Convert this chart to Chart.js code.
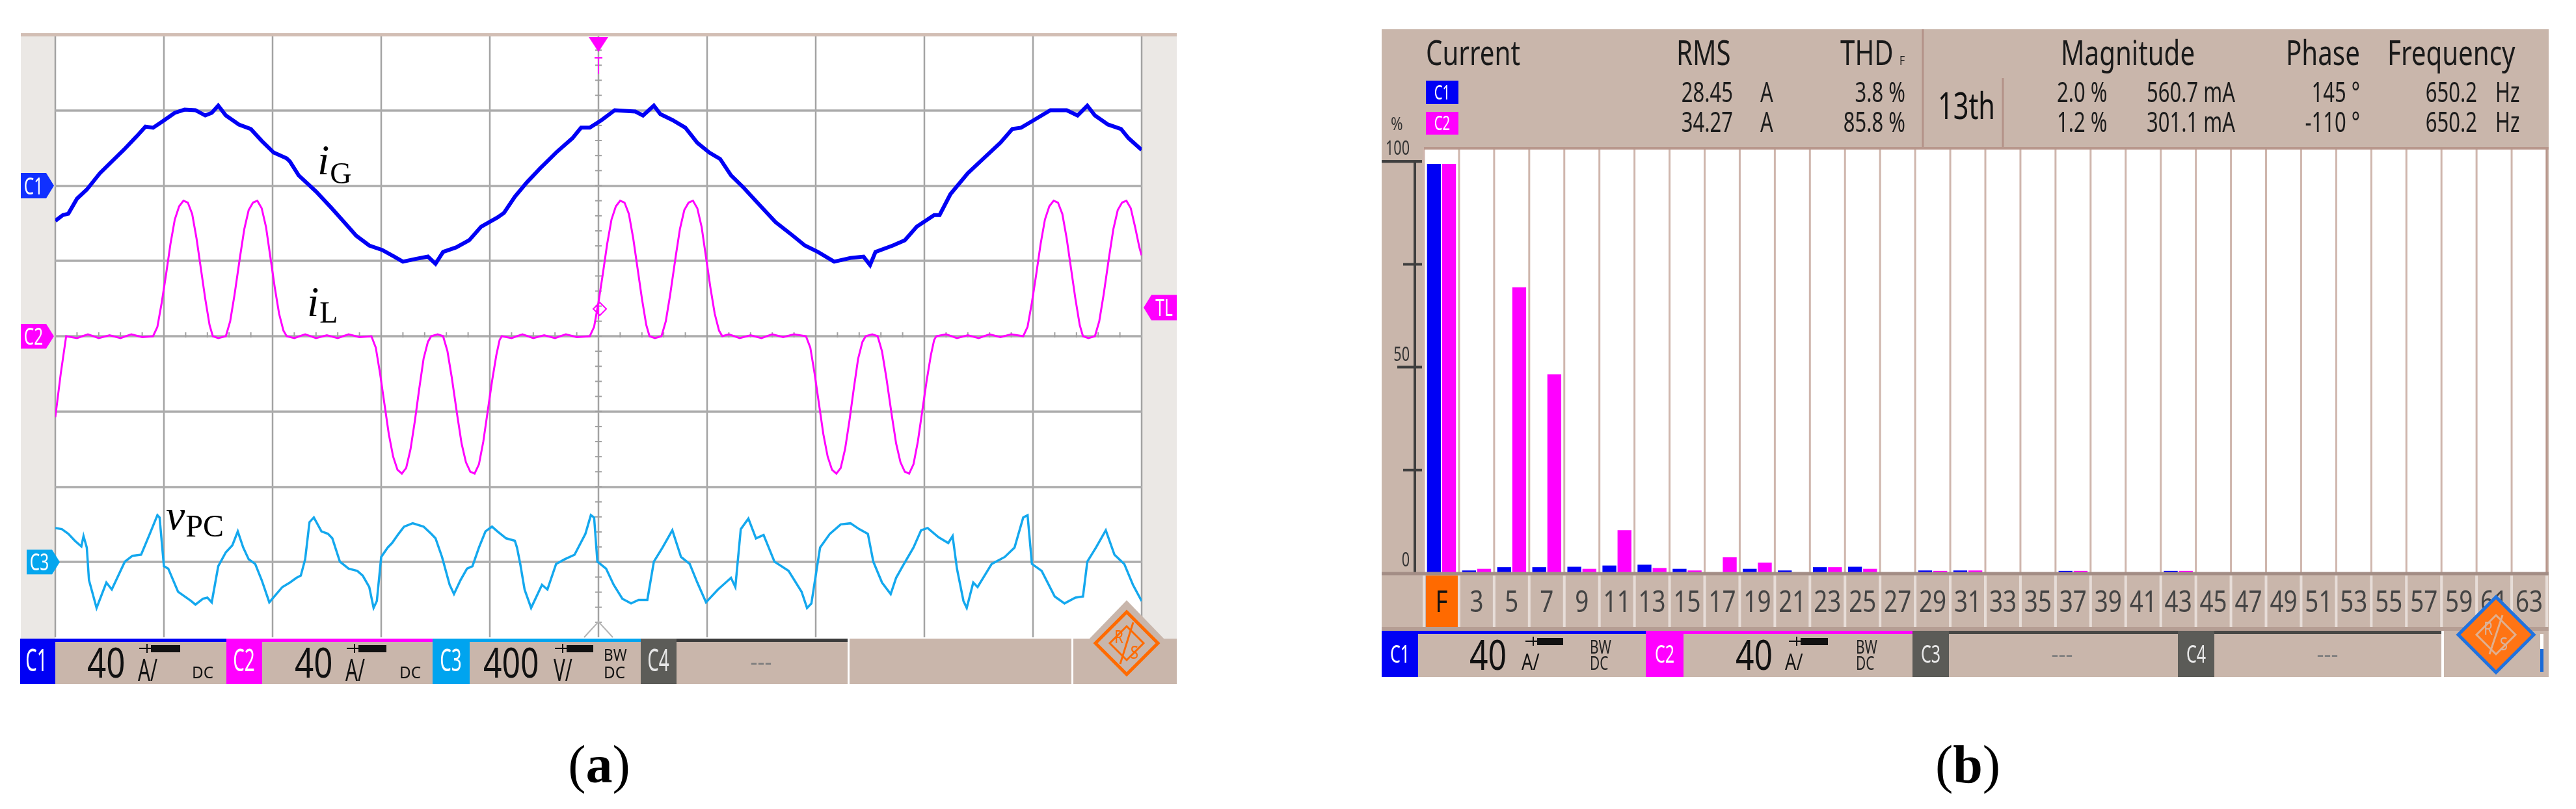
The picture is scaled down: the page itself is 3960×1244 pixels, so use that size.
<!DOCTYPE html>
<html>
<head>
<meta charset="utf-8">
<script src="https://cdn.jsdelivr.net/npm/chart.js@4.4.0/dist/chart.umd.min.js"></script>
<style>
  html, body { margin: 0; padding: 0; background: #fff; }
  #wrap { position: relative; width: 3960px; height: 1244px; overflow: hidden; }
  #wrap canvas { position: absolute; left: 0; top: 0; }
</style>
</head>
<body>
<div id="wrap">
  <canvas id="scope" width="3960" height="1244"></canvas>
  <canvas id="spectrum" width="3960" height="1244"></canvas>
</div>
<script>
// ---------- panel (a): scope traces, time in divisions ----------
// iG (C1, 40 A/div)
const timeIG = [0, 0.07, 0.12, 0.2, 0.29, 0.41, 0.52, 0.63, 0.75, 0.83,
  0.9, 0.98, 1.1, 1.19, 1.29, 1.38, 1.44, 1.5, 1.57, 1.69,
  1.8, 1.9, 2.01, 2.13, 2.16, 2.24, 2.4, 2.54, 2.66, 2.77,
  2.89, 3.01, 3.12, 3.2, 3.31, 3.43, 3.5, 3.57, 3.69, 3.81,
  3.92, 4.07, 4.13, 4.23, 4.34, 4.46, 4.61, 4.76, 4.84, 4.92,
  5.03, 5.15, 5.34, 5.41, 5.51, 5.57, 5.68, 5.8, 5.91, 6.02,
  6.12, 6.22, 6.33, 6.49, 6.63, 6.79, 6.9, 7.02, 7.17, 7.32,
  7.44, 7.5, 7.55, 7.71, 7.82, 7.93, 8.09, 8.14, 8.24, 8.4,
  8.54, 8.7, 8.81, 8.89, 9.01, 9.16, 9.31, 9.41, 9.5, 9.57,
  9.69, 9.81, 9.88, 10];
const currentIG = [-18.7, -15.6, -14.9, -6.9, -2.1, 6.6, 12.8, 19.0, 26.3, 31.4,
  30.8, 33.9, 38.7, 40.4, 40.1, 37.3, 38.7, 42.5, 37.3, 32.5,
  30.1, 23.8, 17.6, 14.5, 12.8, 5.5, -3.1, -11.7, -19.4, -26.6,
  -31.8, -34.2, -37.7, -40.4, -39.0, -37.7, -41.5, -35.2, -32.8, -29.0,
  -21.8, -16.9, -14.5, -5.9, 1.7, 9.0, 17.6, 25.2, 30.8, 30.8,
  34.9, 40.1, 39.4, 37.3, 42.5, 38.0, 34.9, 30.8, 22.8, 17.6,
  14.2, 5.5, -0.7, -10.7, -19.4, -26.6, -31.8, -35.2, -40.4, -38.4,
  -37.7, -42.2, -35.2, -31.8, -29.0, -21.8, -15.6, -15.6, -4.5, 6.6,
  14.2, 22.8, 30.1, 30.8, 34.9, 40.1, 40.1, 37.3, 42.5, 37.3,
  32.5, 30.1, 25.2, 19.0];

// iL (C2, 40 A/div)
const timeIL = [0, 0.05, 0.1, 0.2, 0.3, 0.4, 0.5, 0.6, 0.7, 0.8, 0.9,
  0.94, 0.98, 1.02, 1.06, 1.1, 1.14, 1.18, 1.22, 1.26, 1.3, 1.34, 1.38, 1.42, 1.45, 1.5, 1.57,
  1.61, 1.65, 1.7, 1.74, 1.78, 1.82, 1.86, 1.9, 1.94, 1.98, 2.02, 2.06, 2.1, 2.13,
  2.2, 2.3, 2.4, 2.5, 2.6, 2.7, 2.8, 2.91,
  2.95, 2.99, 3.03, 3.07, 3.11, 3.15, 3.19, 3.23, 3.27, 3.31, 3.35, 3.39, 3.43, 3.46, 3.52, 3.57,
  3.61, 3.65, 3.7, 3.74, 3.78, 3.82, 3.86, 3.9, 3.94, 3.98, 4.02, 4.06, 4.09, 4.11,
  4.2, 4.3, 4.4, 4.5, 4.6, 4.7, 4.8, 4.92,
  4.96, 5.0, 5.04, 5.08, 5.12, 5.16, 5.2, 5.24, 5.28, 5.32, 5.36, 5.4, 5.44, 5.47, 5.52, 5.58,
  5.62, 5.66, 5.71, 5.75, 5.79, 5.83, 5.87, 5.91, 5.95, 5.99, 6.03, 6.07, 6.11, 6.14,
  6.2, 6.3, 6.4, 6.5, 6.6, 6.7, 6.8, 6.91,
  6.95, 6.99, 7.03, 7.07, 7.11, 7.15, 7.19, 7.23, 7.27, 7.31, 7.35, 7.39, 7.43, 7.46, 7.52, 7.57,
  7.61, 7.65, 7.7, 7.74, 7.78, 7.82, 7.86, 7.9, 7.94, 7.98, 8.02, 8.06, 8.09, 8.11,
  8.2, 8.3, 8.4, 8.5, 8.6, 8.7, 8.8, 8.91,
  8.95, 8.99, 9.03, 9.07, 9.11, 9.15, 9.19, 9.23, 9.27, 9.31, 9.35, 9.39, 9.43, 9.46, 9.51, 9.57,
  9.61, 9.65, 9.7, 9.74, 9.78, 9.82, 9.86, 9.9, 9.94, 9.98, 10];
const currentIL = [-43, -20, 0, -1, 1, -1, 0.5, -1, 1, -0.5, 0,
  5, 18, 33, 49, 62, 69, 72, 71, 65, 52, 36, 20, 6, 0, -1, 0,
  8, 22, 42, 57, 67, 71, 72, 68, 58, 42, 26, 12, 3, 0,
  -1, 1, -1, 0.5, -1, 1, -0.5, 0,
  -6, -20, -36, -52, -64, -71, -73, -70, -60, -45, -28, -12, -3, 0, 1, 0,
  -8, -22, -42, -57, -67, -72, -73, -68, -56, -40, -24, -10, -2, 0,
  -1, 1, -1, 0.5, -1, 1, -0.5, 0,
  5, 18, 33, 49, 62, 69, 72, 71, 65, 52, 36, 20, 6, 0, -1, 0,
  8, 22, 42, 57, 67, 71, 72, 68, 58, 42, 26, 12, 3, 0,
  1, -1, 0.5, -1, 1, -0.5, 1, 0,
  -6, -20, -36, -52, -64, -71, -73, -70, -60, -45, -28, -12, -3, 0, 1, 0,
  -8, -22, -42, -57, -67, -72, -73, -68, -56, -40, -24, -10, -2, 0,
  1, -1, 0.5, -1, 1, -0.5, 1, 0,
  5, 18, 33, 49, 62, 69, 72, 71, 65, 52, 36, 20, 6, 0, -1, 0,
  8, 22, 42, 57, 67, 71, 72, 68, 58, 47, 43];

// vPC (C3, 400 V/div)
const timePC = [0, 0.06, 0.12, 0.18, 0.24, 0.26, 0.29, 0.31, 0.38, 0.47,
  0.52, 0.64, 0.71, 0.79, 0.87, 0.94, 0.96, 1.0, 1.04, 1.13,
  1.25, 1.29, 1.36, 1.4, 1.44, 1.5, 1.57, 1.63, 1.68, 1.73,
  1.78, 1.84, 1.9, 1.97, 2.09, 2.16, 2.22, 2.26, 2.3, 2.34,
  2.38, 2.45, 2.51, 2.55, 2.62, 2.7, 2.78, 2.83, 2.89, 2.93,
  2.96, 3.0, 3.06, 3.1, 3.16, 3.21, 3.29, 3.39, 3.46, 3.5,
  3.56, 3.63, 3.67, 3.73, 3.79, 3.84, 3.9, 3.96, 4.02, 4.07,
  4.15, 4.23, 4.25, 4.28, 4.32, 4.38, 4.44, 4.48, 4.53, 4.61,
  4.69, 4.78, 4.88, 4.93, 4.96, 4.99, 5.07, 5.14, 5.22, 5.3,
  5.37, 5.45, 5.51, 5.59, 5.68, 5.76, 5.84, 5.91, 5.99, 6.1,
  6.22, 6.26, 6.31, 6.38, 6.45, 6.52, 6.62, 6.75, 6.87, 6.92,
  6.96, 7.04, 7.13, 7.23, 7.32, 7.4, 7.48, 7.53, 7.61, 7.69,
  7.74, 7.8, 7.9, 7.97, 8.03, 8.13, 8.22, 8.26, 8.3, 8.36,
  8.39, 8.45, 8.49, 8.62, 8.74, 8.83, 8.91, 8.95, 8.99, 9.08,
  9.2, 9.29, 9.39, 9.46, 9.5, 9.58, 9.67, 9.75, 9.84, 9.92,
  10];
const voltPC = [181, 175, 150, 113, 83, 138, 77, -96, -244, -109,
  -146, 2, 33, 39, 150, 249, 237, -22, -35, -158,
  -207, -226, -195, -189, -214, -22, 52, 89, 163, 77,
  15, -10, -96, -214, -133, -109, -84, -72, 15, 212,
  237, 163, 150, 126, 2, -35, -47, -72, -133, -244,
  -207, 27, 77, 101, 150, 188, 206, 188, 150, 126,
  27, -121, -170, -96, -35, -22, 77, 163, 188, 163,
  126, 113, 77, -10, -146, -244, -170, -121, -146, -10,
  15, 39, 150, 249, 237, 2, -35, -121, -195, -220,
  -201, -201, 2, 77, 169, 27, -10, -109, -214, -146,
  -84, -133, 175, 231, 126, 144, 2, -47, -158, -244,
  -220, 77, 150, 200, 206, 175, 150, 2, -109, -170,
  -84, -22, 77, 169, 181, 132, 101, 138, -35, -207,
  -244, -109, -133, -10, 27, 77, 237, 249, -10, -47,
  -183, -220, -189, -183, 2, 77, 169, 39, -10, -121,
  -207];

// ---------- panel (b): harmonic spectrum ----------
const harmonicOrders = ['F', '3', '5', '7', '9', '11', '13', '15', '17', '19', '21', '23', '25', '27', '29', '31',
  '33', '35', '37', '39', '41', '43', '45', '47', '49', '51', '53', '55', '57', '59', '61', '63'];
const c1Percent = [99.4, 0.6, 1.4, 1.4, 1.5, 1.8, 2.0, 1.0, 0, 1.0, 0.6, 1.4, 1.5, 0, 0.6, 0.6,
  0, 0, 0.5, 0, 0, 0.5, 0, 0, 0, 0, 0, 0, 0, 0, 0, 0];
const c2Percent = [99.4, 1.0, 69.4, 48.3, 1.0, 10.4, 1.2, 0.6, 3.8, 2.5, 0, 1.4, 1.0, 0, 0.5, 0.6,
  0, 0, 0.5, 0, 0, 0.5, 0, 0, 0, 0, 0, 0, 0, 0, 0, 0];
const percentTicks = [0, 25, 50, 75, 100];
const percentLabels = [0, 50, 100];

// header table of the analyser
const headerTitles = ['Current', 'RMS', 'THD', 'Magnitude', 'Phase', 'Frequency'];
const rmsAmps = ['28.45', '34.27'];
const thdPercent = ['3.8 %', '85.8 %'];
const selectedOrder = '13th';
const magPercent = ['2.0 %', '1.2 %'];
const magMilliamps = ['560.7 mA', '301.1 mA'];
const phaseDeg = ['145 °', '-110 °'];
const freqHz = ['650.2', '650.2'];

const TAN = '#c9b6ab';
const BLUE = '#0000f5';
const MAGENTA = '#ff00ff';
const CYAN = '#14a8ee';

function pairs(xs, ys) { return xs.map((x, i) => ({ x: x, y: ys[i] })); }

// condensed scope-style text
function sText(ctx, str, x, y, size, o) {
  o = o || {};
  ctx.save();
  ctx.font = (o.weight || 400) + ' ' + size + 'px "Noto Sans", "Open Sans", sans-serif';
  ctx.fillStyle = o.color || '#1c1c1c';
  const sx = o.sx || 0.76;
  const w = ctx.measureText(str).width * sx;
  let left = x;
  if (o.align === 'right') left = x - w;
  else if (o.align === 'center') left = x - w / 2;
  ctx.translate(left, y);
  ctx.scale(sx, 1);
  ctx.textAlign = 'left';
  ctx.textBaseline = 'alphabetic';
  ctx.fillText(str, 0, 0);
  ctx.restore();
}

function seg(ctx, x0, y0, x1, y1) {
  ctx.beginPath(); ctx.moveTo(x0, y0); ctx.lineTo(x1, y1); ctx.stroke();
}

function tag(ctx, x0, x1, yc, h, pointRight, color, label) {
  ctx.save();
  ctx.fillStyle = color;
  ctx.beginPath();
  if (pointRight) {
    ctx.moveTo(x0, yc - h / 2); ctx.lineTo(x1 - 12, yc - h / 2); ctx.lineTo(x1, yc);
    ctx.lineTo(x1 - 12, yc + h / 2); ctx.lineTo(x0, yc + h / 2);
  } else {
    ctx.moveTo(x1, yc - h / 2); ctx.lineTo(x0 + 12, yc - h / 2); ctx.lineTo(x0, yc);
    ctx.lineTo(x0 + 12, yc + h / 2); ctx.lineTo(x1, yc + h / 2);
  }
  ctx.closePath(); ctx.fill();
  ctx.restore();
  const cx = pointRight ? (x0 + x1 - 12) / 2 : (x0 + 12 + x1) / 2;
  sText(ctx, label, cx, yc + 13, 36, { align: 'center', color: '#fff', sx: 0.68 });
}

function probeArrow(ctx, tipX, endX, y) {
  ctx.save();
  ctx.fillStyle = '#111';
  ctx.strokeStyle = '#111';
  ctx.lineWidth = 2;
  seg(ctx, tipX, y, tipX + 18, y);
  seg(ctx, tipX + 12, y - 7, tipX + 12, y + 7);
  ctx.fillRect(tipX + 18, y - 5, endX - tipX - 18, 11);
  ctx.restore();
}

function diamond(ctx, cx, cy, rx, ry) {
  ctx.beginPath();
  ctx.moveTo(cx, cy - ry); ctx.lineTo(cx + rx, cy); ctx.lineTo(cx, cy + ry); ctx.lineTo(cx - rx, cy);
  ctx.closePath();
}

function rsLogo(ctx, cx, cy, variant) {
  ctx.save();
  if (variant === 'a') {
    ctx.fillStyle = TAN; diamond(ctx, cx, cy - 2, 60, 62); ctx.fill();
    ctx.strokeStyle = '#ff6a00'; ctx.lineWidth = 5;
    diamond(ctx, cx, cy + 2, 48, 48); ctx.stroke();
    ctx.lineWidth = 3; diamond(ctx, cx, cy + 2, 26, 26); ctx.stroke();
    seg(ctx, cx + 10, cy - 30, cx - 10, cy + 34);
    sText(ctx, 'R', cx - 12, cy + 2, 28, { align: 'center', color: '#ff6a00', sx: 0.8 });
    sText(ctx, 'S', cx + 12, cy + 26, 28, { align: 'center', color: '#ff6a00', sx: 0.8 });
  } else {
    ctx.fillStyle = '#ff7414'; diamond(ctx, cx, cy, 58, 58); ctx.fill();
    ctx.strokeStyle = '#1f72e0'; ctx.lineWidth = 5; ctx.stroke();
    ctx.strokeStyle = '#e0b090'; ctx.lineWidth = 3; diamond(ctx, cx, cy, 30, 30); ctx.stroke();
    seg(ctx, cx + 10, cy - 30, cx - 10, cy + 30);
    sText(ctx, 'R', cx - 12, cy, 28, { align: 'center', color: '#d8b4a0', sx: 0.8 });
    sText(ctx, 'S', cx + 12, cy + 24, 28, { align: 'center', color: '#d8b4a0', sx: 0.8 });
  }
  ctx.restore();
}

function mathLabel(ctx, main, sub, x, yMain, ySub, mainSize, subSize) {
  ctx.save();
  ctx.fillStyle = '#000';
  ctx.textBaseline = 'alphabetic';
  ctx.font = 'italic ' + mainSize + 'px "Liberation Serif", "DejaVu Serif", serif';
  ctx.fillText(main, x, yMain);
  const w = ctx.measureText(main).width;
  ctx.font = subSize + 'px "Liberation Serif", "DejaVu Serif", serif';
  ctx.fillText(sub, x + w + 1, ySub);
  ctx.restore();
}

function caption(ctx, letter, cx, baseline) {
  ctx.save();
  ctx.fillStyle = '#000';
  ctx.textBaseline = 'alphabetic';
  const reg = '82px "Liberation Serif", serif', bold = 'bold 82px "Liberation Serif", serif';
  ctx.font = reg; const wp = ctx.measureText('(').width;
  ctx.font = bold; const wl = ctx.measureText(letter).width;
  let x = cx - (2 * wp + wl) / 2;
  ctx.font = reg; ctx.fillText('(', x, baseline); x += wp;
  ctx.font = bold; ctx.fillText(letter, x, baseline); x += wl;
  ctx.font = reg; ctx.fillText(')', x, baseline);
  ctx.restore();
}

// ---------- scope frame plugin (panel a) ----------
const scopeFrame = {
  id: 'scopeFrame',
  beforeDraw(chart) {
    const ctx = chart.ctx, a = chart.chartArea;
    const xs = chart.scales.x, ys = chart.scales.yC2;
    ctx.save();
    ctx.fillStyle = '#ebe8e5';
    ctx.fillRect(32, 54, 53, 928);
    ctx.fillRect(a.right, 54, 54, 928);
    ctx.fillStyle = '#fff';
    ctx.fillRect(a.left, a.top, a.right - a.left, a.bottom - a.top);

    // division grid, 10 x 8
    ctx.strokeStyle = '#a3a3a3';
    ctx.lineWidth = 2.5;
    for (let k = 0; k <= 10; k++) {
      const px = Math.round(xs.getPixelForValue(k));
      seg(ctx, px, a.top, px, a.bottom);
    }
    ctx.lineWidth = 3.5;
    ctx.strokeStyle = '#acacac';
    for (let k = -3; k <= 3; k++) {
      const py = Math.round(ys.getPixelForValue(k * 40));
      seg(ctx, a.left, py, a.right, py);
    }
    // centre axis minor ticks
    ctx.lineWidth = 2;
    ctx.strokeStyle = '#a0a0a0';
    const cx = xs.getPixelForValue(5), cy = ys.getPixelForValue(0);
    for (let j = 1; j < 40; j++) {
      const py = ys.getPixelForValue(-160 + j * 8);
      seg(ctx, cx - 5, py, cx + 5, py);
    }
    for (let j = 1; j < 50; j++) {
      const px = xs.getPixelForValue(j * 0.2);
      seg(ctx, px, cy - 6, px, cy + 2);
    }
    // top frame line
    ctx.fillStyle = '#d2beb4';
    ctx.fillRect(32, 51, 1777, 5);

    // status bar
    const sy = 982, sh = 70;
    ctx.fillStyle = TAN;
    ctx.fillRect(85, sy, 1218, sh);
    ctx.fillRect(1306, sy, 341, sh);
    ctx.fillRect(1650, sy, 159, sh);
    ctx.fillStyle = BLUE; ctx.fillRect(31, sy, 317, 5); ctx.fillRect(31, sy, 54, sh);
    ctx.fillStyle = MAGENTA; ctx.fillRect(348, sy, 317, 5); ctx.fillRect(348, sy, 55, sh);
    ctx.fillStyle = '#00a4ef'; ctx.fillRect(665, sy, 320, 5); ctx.fillRect(665, sy, 57, sh);
    ctx.fillStyle = '#3b3b3b'; ctx.fillRect(985, sy, 318, 5);
    ctx.fillStyle = '#5c5c58'; ctx.fillRect(985, sy, 55, sh);
    sText(ctx, 'C1', 56, 1032, 48, { align: 'center', color: '#fff', sx: 0.58 });
    sText(ctx, 'C2', 375, 1032, 48, { align: 'center', color: '#fff', sx: 0.58 });
    sText(ctx, 'C3', 693, 1032, 48, { align: 'center', color: '#fff', sx: 0.58 });
    sText(ctx, 'C4', 1012, 1032, 48, { align: 'center', color: '#e6e6e6', sx: 0.58 });

    sText(ctx, '40', 134, 1042, 64, { sx: 0.8, color: '#111' });
    sText(ctx, 'A/', 212, 1047, 48, { sx: 0.62, color: '#111' });
    probeArrow(ctx, 214, 277, 997);
    sText(ctx, 'DC', 295, 1043, 25, { sx: 0.97, color: '#111' });

    sText(ctx, '40', 453, 1042, 64, { sx: 0.8, color: '#111' });
    sText(ctx, 'A/', 531, 1047, 48, { sx: 0.62, color: '#111' });
    probeArrow(ctx, 533, 594, 997);
    sText(ctx, 'DC', 614, 1043, 25, { sx: 0.97, color: '#111' });

    sText(ctx, '400', 743, 1042, 64, { sx: 0.78, color: '#111' });
    sText(ctx, 'V/', 851, 1047, 48, { sx: 0.62, color: '#111' });
    probeArrow(ctx, 853, 912, 997);
    sText(ctx, 'BW', 928, 1016, 25, { sx: 0.9, color: '#111' });
    sText(ctx, 'DC', 928, 1043, 25, { sx: 0.97, color: '#111' });

    sText(ctx, '---', 1170, 1030, 34, { align: 'center', color: '#7d7d7d', sx: 1 });
    ctx.restore();
  },
  afterDatasetsDraw(chart) {
    const ctx = chart.ctx, xs = chart.scales.x;
    ctx.save();
    // channel ground tags
    tag(ctx, 32, 83, chart.scales.yC1.getPixelForValue(0), 39, true, '#1030ff', 'C1');
    tag(ctx, 32, 83, chart.scales.yC2.getPixelForValue(0), 38, true, MAGENTA, 'C2');
    tag(ctx, 41, 92, chart.scales.yC3.getPixelForValue(0), 38, true, '#05a6ee', 'C3');
    tag(ctx, 1758, 1809, 473, 39, false, MAGENTA, 'TL');

    // trigger position marker
    const tx = xs.getPixelForValue(5);
    ctx.fillStyle = MAGENTA;
    ctx.beginPath(); ctx.moveTo(tx - 15, 57); ctx.lineTo(tx + 15, 57); ctx.lineTo(tx, 80); ctx.closePath(); ctx.fill();
    ctx.strokeStyle = MAGENTA; ctx.lineWidth = 2;
    seg(ctx, tx, 89, tx, 114); seg(ctx, tx - 6, 89, tx + 6, 89);
    // trigger level marker
    ctx.lineWidth = 2;
    diamond(ctx, tx + 2, 475, 10, 10); ctx.stroke();
    seg(ctx, tx, 462, tx, 490);
    // bottom time reference marker
    ctx.strokeStyle = '#b4b4b4'; ctx.lineWidth = 2;
    ctx.beginPath(); ctx.moveTo(tx - 22, 980); ctx.lineTo(tx, 956); ctx.lineTo(tx + 22, 980); ctx.stroke();

    // trace labels
    mathLabel(ctx, 'i', 'G', 488, 268, 282, 66, 46);
    mathLabel(ctx, 'i', 'L', 472, 486, 496, 66, 46);
    mathLabel(ctx, 'v', 'PC', 255, 814, 825, 66, 48);

    rsLogo(ctx, 1732, 987, 'a');
    caption(ctx, 'a', 921, 1203);
    ctx.restore();
  }
};

// ---------- analyser frame plugin (panel b) ----------
const spectrumFrame = {
  id: 'spectrumFrame',
  beforeDraw(chart) {
    const ctx = chart.ctx, a = chart.chartArea;
    const xs = chart.scales.x, ys = chart.scales.y;
    ctx.save();
    ctx.fillStyle = TAN;
    ctx.fillRect(2124, 45, 1794, 920);
    ctx.fillStyle = '#fff';
    ctx.fillRect(a.left, a.top, a.right - a.left, a.bottom - a.top);

    // header
    ctx.strokeStyle = '#b39288'; ctx.lineWidth = 3;
    seg(ctx, 2956, 45, 2956, a.top);
    seg(ctx, 3079, 120, 3079, a.top);
    const hdrX = [2192, 2577, 2829, 3168, 3514, 3670];
    headerTitles.forEach((t, i) => sText(ctx, t, hdrX[i], 100, 53, { sx: 0.76, color: '#1a1a1a' }));
    sText(ctx, 'F', 2920, 100, 20, { sx: 0.8, color: '#1a1a1a' });

    ctx.fillStyle = BLUE; ctx.fillRect(2192, 124, 50, 36);
    ctx.fillStyle = MAGENTA; ctx.fillRect(2192, 172, 50, 35);
    sText(ctx, 'C1', 2217, 153, 30, { align: 'center', color: '#fff', sx: 0.68 });
    sText(ctx, 'C2', 2217, 200, 30, { align: 'center', color: '#fff', sx: 0.68 });

    const rows = [157, 203];
    rows.forEach((by, r) => {
      sText(ctx, rmsAmps[r], 2664, by, 43, { align: 'right', sx: 0.72 });
      sText(ctx, 'A', 2706, by, 43, { sx: 0.72 });
      sText(ctx, thdPercent[r], 2929, by, 43, { align: 'right', sx: 0.72 });
      sText(ctx, magPercent[r], 3162, by, 43, { sx: 0.72 });
      sText(ctx, magMilliamps[r], 3300, by, 43, { sx: 0.72 });
      sText(ctx, phaseDeg[r], 3628, by, 43, { align: 'right', sx: 0.72 });
      sText(ctx, freqHz[r], 3808, by, 43, { align: 'right', sx: 0.72 });
      sText(ctx, 'Hz', 3836, by, 43, { sx: 0.72 });
    });
    sText(ctx, selectedOrder, 2979, 183, 56, { sx: 0.74, color: '#111' });

    // harmonic slot separators and order labels
    const slot = xs.getPixelForValue(1) - xs.getPixelForValue(0);
    const first = xs.getPixelForValue(0) - slot / 2;
    for (let i = 0; i <= harmonicOrders.length; i++) {
      const px = first + i * slot;
      ctx.strokeStyle = '#cfb6ad'; ctx.lineWidth = 3;
      seg(ctx, px, a.top, px, a.bottom);
      ctx.strokeStyle = '#e7ddd8'; ctx.lineWidth = 4;
      seg(ctx, px, a.bottom + 4, px, 965);
    }
    ctx.fillStyle = '#ff6a00';
    ctx.fillRect(first + 3, a.bottom + 4, slot - 5, 80);
    harmonicOrders.forEach((lab, i) => {
      sText(ctx, lab, xs.getPixelForValue(i), 941, 46, { align: 'center', sx: 0.8, color: i === 0 ? '#111' : '#444' });
    });

    // frame lines
    ctx.strokeStyle = '#b8978c'; ctx.lineWidth = 4;
    seg(ctx, a.left, a.top, 3918, a.top);
    ctx.lineWidth = 3;
    seg(ctx, a.right, a.top, a.right, a.bottom);
    ctx.fillStyle = '#b59e94';
    ctx.fillRect(2124, 964, 1794, 6);

    // percent axis
    sText(ctx, '%', 2138, 200, 28, { sx: 0.8, color: '#333' });
    ctx.strokeStyle = '#3e3e3e'; ctx.lineWidth = 4;
    seg(ctx, 2175, ys.getPixelForValue(100), 2175, ys.getPixelForValue(0));
    percentTicks.forEach(v => {
      const py = ys.getPixelForValue(v);
      const x0 = v === 100 ? 2124 : (v === 50 ? 2148 : 2157);
      if (v > 0) seg(ctx, x0, py, 2186, py);
    });
    percentLabels.forEach(v => {
      sText(ctx, String(v), 2167, ys.getPixelForValue(v) - 10, 30, { align: 'right', sx: 0.72, color: '#333' });
    });

    // status bar
    const sy = 970, sh = 71;
    ctx.fillStyle = TAN;
    ctx.fillRect(2124, sy, 1629, sh);
    ctx.fillRect(3757, sy, 161, sh);
    ctx.fillStyle = BLUE; ctx.fillRect(2124, sy, 406, 5); ctx.fillRect(2124, sy, 56, sh);
    ctx.fillStyle = MAGENTA; ctx.fillRect(2530, sy, 410, 5); ctx.fillRect(2530, sy, 58, sh);
    ctx.fillStyle = '#474745'; ctx.fillRect(2940, sy, 813, 5);
    ctx.fillStyle = '#5b5b57'; ctx.fillRect(2940, sy, 56, sh); ctx.fillRect(3348, sy, 56, sh);
    sText(ctx, 'C1', 2152, 1019, 38, { align: 'center', color: '#fff', sx: 0.66 });
    sText(ctx, 'C2', 2559, 1019, 38, { align: 'center', color: '#fff', sx: 0.66 });
    sText(ctx, 'C3', 2968, 1019, 38, { align: 'center', color: '#e8e8e8', sx: 0.66 });
    sText(ctx, 'C4', 3376, 1019, 38, { align: 'center', color: '#e8e8e8', sx: 0.66 });

    [[2259, 2339, 2345, 2403, 2444], [2668, 2744, 2750, 2810, 2853]].forEach(g => {
      sText(ctx, '40', g[0], 1030, 64, { sx: 0.78, color: '#111' });
      sText(ctx, 'A/', g[1], 1030, 34, { sx: 0.8, color: '#111' });
      probeArrow(ctx, g[2], g[3], 986);
      sText(ctx, 'BW', g[4], 1005, 29, { sx: 0.72, color: '#222' });
      sText(ctx, 'DC', g[4], 1030, 29, { sx: 0.72, color: '#222' });
    });
    sText(ctx, '---', 3170, 1018, 34, { align: 'center', color: '#7d7d7d', sx: 1 });
    sText(ctx, '---', 3578, 1018, 34, { align: 'center', color: '#7d7d7d', sx: 1 });
    ctx.fillStyle = '#ffffff'; ctx.fillRect(3905, 975, 5, 23);
    ctx.fillStyle = '#1a6ad8'; ctx.fillRect(3905, 998, 5, 35);
    ctx.restore();
  },
  afterDatasetsDraw(chart) {
    const ctx = chart.ctx, a = chart.chartArea;
    ctx.save();
    ctx.strokeStyle = '#a38d85'; ctx.lineWidth = 5;
    seg(ctx, 2124, a.bottom + 1, 3918, a.bottom + 1);
    ctx.strokeStyle = '#3e3e3e'; ctx.lineWidth = 4;
    seg(ctx, 2124, chart.scales.y.getPixelForValue(100), 2186, chart.scales.y.getPixelForValue(100));
    rsLogo(ctx, 3837, 976, 'b');
    caption(ctx, 'b', 3025, 1203);
    ctx.restore();
  }
};

// ---------- chart (a) ----------
new Chart(document.getElementById('scope'), {
  type: 'line',
  data: {
    datasets: [
      { label: 'iG', data: pairs(timeIG, currentIG), yAxisID: 'yC1', borderColor: BLUE, borderWidth: 6, pointRadius: 0, tension: 0 },
      { label: 'iL', data: pairs(timeIL, currentIL), yAxisID: 'yC2', borderColor: MAGENTA, borderWidth: 3, pointRadius: 0, tension: 0 },
      { label: 'vPC', data: pairs(timePC, voltPC), yAxisID: 'yC3', borderColor: CYAN, borderWidth: 3.5, pointRadius: 0, tension: 0 }
    ]
  },
  options: {
    responsive: false,
    animation: false,
    events: [],
    layout: { padding: { left: 85, top: 54, right: 3960 - 1755, bottom: 1244 - 980 } },
    scales: {
      x: { type: 'linear', min: 0, max: 10, display: false },
      yC1: { type: 'linear', min: -240, max: 80, display: false },
      yC2: { type: 'linear', min: -160, max: 160, display: false },
      yC3: { type: 'linear', min: -400, max: 2800, display: false }
    },
    plugins: { legend: { display: false }, tooltip: { enabled: false } }
  },
  plugins: [scopeFrame]
});

// ---------- chart (b) ----------
new Chart(document.getElementById('spectrum'), {
  type: 'bar',
  data: {
    labels: harmonicOrders,
    datasets: [
      { label: 'C1', data: c1Percent, backgroundColor: BLUE, barPercentage: 0.92, categoryPercentage: 0.86 },
      { label: 'C2', data: c2Percent, backgroundColor: MAGENTA, barPercentage: 0.92, categoryPercentage: 0.86 }
    ]
  },
  options: {
    responsive: false,
    animation: false,
    events: [],
    layout: { padding: { left: 2189, top: 228, right: 3960 - 3915, bottom: 1244 - 881 } },
    scales: {
      x: { display: false },
      y: { min: 0, max: 103.2, display: false }
    },
    plugins: { legend: { display: false }, tooltip: { enabled: false } }
  },
  plugins: [spectrumFrame]
});
</script>
</body>
</html>
